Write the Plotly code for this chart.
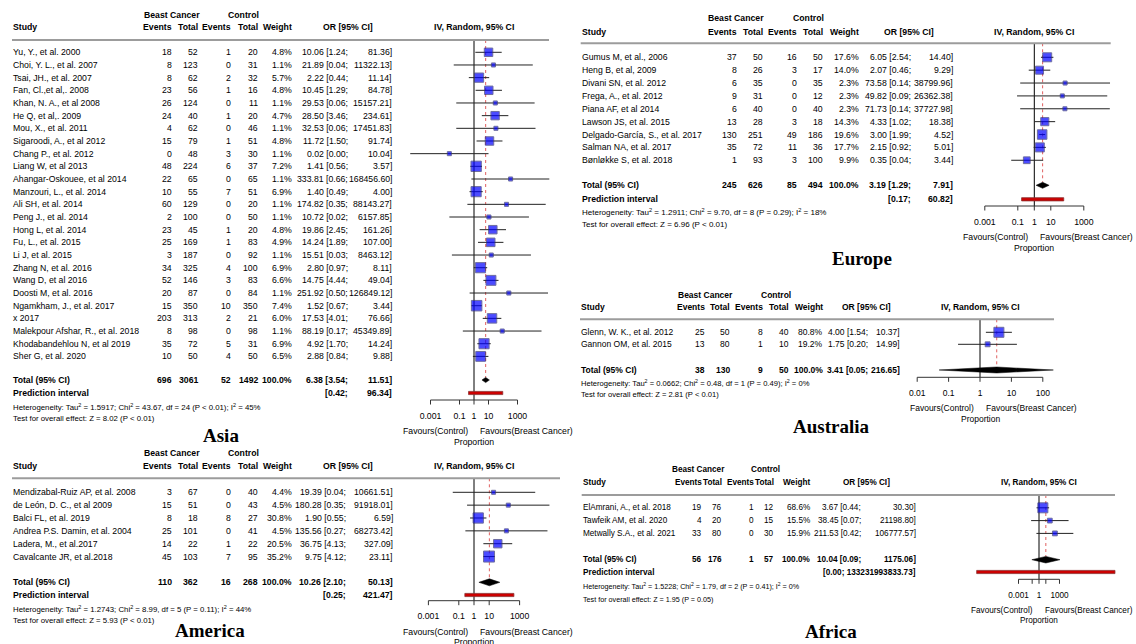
import math
import plotly.graph_objects as go

W, H = 1136, 644
FONT = "Liberation Sans, Arial, Helvetica, sans-serif"
SERIF = "Liberation Serif, Times New Roman, serif"

# ---------------- Asia ----------------
asia_study = ["Yu, Y., et al. 2000", "Choi, Y. L., et al. 2007", "Tsai, JH., et al. 2007",
              "Fan, Cl.,et al,. 2008", "Khan, N. A., et al 2008", "He Q, et al,. 2009",
              "Mou, X., et al. 2011", "Sigaroodi, A., et al 2012", "Chang P., et al. 2012",
              "Liang W, et al 2013", "Ahangar-Oskouee, et al 2014", "Manzouri, L., et al. 2014",
              "Ali SH, et al. 2014", "Peng J., et al. 2014", "Hong L, et al. 2014",
              "Fu, L., et al. 2015", "Li J, et al. 2015", "Zhang N, et al. 2016",
              "Wang D, et al 2016", "Doosti M, et al. 2016", "Ngamkham, J., et al. 2017",
              "x 2017", "Malekpour Afshar, R., et al. 2018", "Khodabandehlou N, et al 2019",
              "Sher G, et al. 2020"]
asia_bc_events = [18, 8, 8, 23, 26, 24, 4, 15, 0, 48, 22, 10, 60, 2, 23, 25, 3, 34, 52, 20, 15, 203, 8, 35, 10]
asia_bc_total = [52, 123, 62, 56, 124, 40, 62, 79, 48, 224, 65, 55, 129, 100, 45, 169, 187, 325, 146, 87, 350, 313, 98, 72, 50]
asia_ct_events = [1, 0, 2, 1, 0, 1, 0, 1, 3, 6, 0, 7, 0, 0, 1, 1, 0, 4, 3, 0, 10, 2, 0, 5, 4]
asia_ct_total = [20, 31, 32, 16, 11, 20, 46, 51, 30, 37, 65, 51, 20, 50, 20, 83, 92, 100, 83, 84, 350, 21, 98, 31, 50]
asia_weight = [4.8, 1.1, 5.7, 4.8, 1.1, 4.7, 1.1, 4.8, 1.1, 7.2, 1.1, 6.9, 1.1, 1.1, 4.8, 4.9, 1.1, 6.9, 6.6, 1.1, 7.4, 6.0, 1.1, 6.9, 6.5]
asia_or = [10.06, 21.89, 2.22, 10.45, 29.53, 28.50, 32.53, 11.72, 0.02, 1.41, 333.81, 1.40, 174.82, 10.72, 19.86,
           14.24, 15.51, 2.80, 14.75, 251.92, 1.52, 17.53, 88.19, 4.92, 2.88]
asia_lo = [1.24, 0.04, 0.44, 1.29, 0.06, 3.46, 0.06, 1.50, 0.00004, 0.56, 0.66, 0.49, 0.35, 0.02, 2.45,
           1.89, 0.03, 0.97, 4.44, 0.50, 0.67, 4.01, 0.17, 1.70, 0.84]
asia_hi = [81.36, 11322.13, 11.14, 84.78, 15157.21, 234.61, 17451.83, 91.74, 10.04, 3.57, 168456.60, 4.00,
           88143.27, 6157.85, 161.26, 107.00, 8463.12, 8.11, 49.04, 126849.12, 3.44, 76.66, 45349.89, 14.24, 9.88]
asia_total = [696, 3061, 52, 1492]
asia_pooled = [6.38, 3.54, 11.51]
asia_pred = [0.42, 96.34]
asia_het = "Heterogeneity: Tau<sup>2</sup> = 1.5917; Chi<sup>2</sup> = 43.67, df = 24 (P &lt; 0.01); I<sup>2</sup> = 45%"
asia_test = "Test for overall effect: Z = 8.02 (P &lt; 0.01)"

# ---------------- Europe ----------------
europe_study = ["Gumus M, et al., 2006", "Heng B, et al, 2009", "Divani SN, et al. 2012", "Frega, A., et al. 2012",
                "Piana AF, et al 2014", "Lawson JS, et al. 2015", "Delgado-García, S., et al. 2017",
                "Salman NA, et al. 2017", "Bønløkke S, et al. 2018"]
europe_bc_events = [37, 8, 6, 9, 6, 13, 130, 35, 1]
europe_bc_total = [50, 26, 35, 31, 40, 28, 251, 72, 93]
europe_ct_events = [16, 3, 0, 0, 0, 3, 49, 11, 3]
europe_ct_total = [50, 17, 35, 12, 40, 18, 186, 36, 100]
europe_weight = [17.6, 14.0, 2.3, 2.3, 2.3, 14.3, 19.6, 17.7, 9.9]
europe_or = [6.05, 2.07, 73.58, 49.82, 71.73, 4.33, 3.00, 2.15, 0.35]
europe_lo = [2.54, 0.46, 0.14, 0.09, 0.14, 1.02, 1.99, 0.92, 0.04]
europe_hi = [14.40, 9.29, 38799.96, 26362.38, 37727.98, 18.38, 4.52, 5.01, 3.44]
europe_total = [245, 626, 85, 494]
europe_pooled = [3.19, 1.29, 7.91]
europe_pred = [0.17, 60.82]
europe_het = "Heterogeneity: Tau<sup>2</sup> = 1.2911; Chi<sup>2</sup> = 9.70, df = 8 (P = 0.29); I<sup>2</sup> = 18%"
europe_test = "Test for overall effect: Z = 6.96 (P &lt; 0.01)"

# ---------------- Australia ----------------
australia_study = ["Glenn, W. K., et al. 2012", "Gannon OM, et al. 2015"]
australia_bc_events = [25, 13]
australia_bc_total = [50, 80]
australia_ct_events = [8, 1]
australia_ct_total = [40, 10]
australia_weight = [80.8, 19.2]
australia_or = [4.00, 1.75]
australia_lo = [1.54, 0.20]
australia_hi = [10.37, 14.99]
australia_total = [38, 130, 9, 50]
australia_pooled = [3.41, 0.05, 216.65]
australia_het = "Heterogeneity: Tau<sup>2</sup> = 0.0662; Chi<sup>2</sup> = 0.48, df = 1 (P = 0.49); I<sup>2</sup> = 0%"
australia_test = "Test for overall effect: Z = 2.81 (P &lt; 0.01)"

# ---------------- America ----------------
america_study = ["Mendizabal-Ruiz AP, et al. 2008", "de León, D. C., et al 2009", "Balci FL, et al. 2019",
                 "Andrea P.S. Damin, et al. 2004", "Ladera, M., et al.2017", "Cavalcante JR, et al.2018"]
america_bc_events = [3, 15, 8, 25, 14, 45]
america_bc_total = [67, 51, 18, 101, 22, 103]
america_ct_events = [0, 0, 8, 0, 1, 7]
america_ct_total = [40, 43, 27, 41, 22, 95]
america_weight = [4.4, 4.5, 30.8, 4.5, 20.5, 35.2]
america_or = [19.39, 180.28, 1.90, 135.56, 36.75, 9.75]
america_lo = [0.04, 0.35, 0.55, 0.27, 4.13, 4.12]
america_hi = [10661.51, 91918.01, 6.59, 68273.42, 327.09, 23.11]
america_total = [110, 362, 16, 268]
america_pooled = [10.26, 2.10, 50.13]
america_pred = [0.25, 421.47]
america_het = "Heterogeneity: Tau<sup>2</sup> = 1.2743; Chi<sup>2</sup> = 8.99, df = 5 (P = 0.11); I<sup>2</sup> = 44%"
america_test = "Test for overall effect: Z = 5.93 (P &lt; 0.01)"

# ---------------- Africa ----------------
africa_study = ["ElAmrani, A., et al. 2018", "Tawfeik AM, et al. 2020", "Metwally S.A., et al. 2021"]
africa_bc_events = [19, 4, 33]
africa_bc_total = [76, 20, 80]
africa_ct_events = [1, 0, 0]
africa_ct_total = [12, 15, 30]
africa_weight = [68.6, 15.5, 15.9]
africa_or = [3.67, 38.45, 211.53]
africa_lo = [0.44, 0.07, 0.42]
africa_hi = [30.30, 21198.80, 106777.57]
africa_total = [56, 176, 1, 57]
africa_pooled = [10.04, 0.09, 1175.06]
africa_pred = [7.5e-10, 133231993833.73]
africa_het = "Heterogeneity: Tau<sup>2</sup> = 1.5228; Chi<sup>2</sup> = 1.79, df = 2 (P = 0.41); I<sup>2</sup> = 0%"
africa_test = "Test for overall effect: Z = 1.95 (P = 0.05)"

# axis ticks
ticks_wide = [0.001, 0.1, 1, 10, 1000]
ticks_wide_text = ["0.001", "0.1", "1", "10", "1000"]
ticks_aus = [0.01, 0.1, 1, 10, 100]
ticks_aus_text = ["0.01", "0.1", "1", "10", "100"]
ticks_afr_text = ["0.001", " ", "1", " ", "1000"]

# ---------------- page layout of each panel (pixels) ----------------
asia_geo = dict(fs=8.7, fs_small=7.8, study_x=12, bce_x=172.5, bct_x=199, cte_x=232.3, ctt_x=258.7, wt_x=292.7,
                cia_x=349, cib_x=393, pi_single=False,
                bc_c=171.5, ct_c=243.3, or_c=348, head1_y=14.7, head2_y=27.3, hline_y=40, hline_x0=12, hline_x1=549,
                row0=52.3, step=12.67, total_y=380, pi_y=393, het_y=406.7, test_y=418.5,
                null_x=474, dec=14.5, dom_l=399, dom_r=549.4, axis_y=400, title_x=221, title_y=435,
                dia_h=2.6, smax=10.5)
america_geo = dict(fs=8.7, fs_small=7.8, study_x=12, bce_x=172.5, bct_x=199, cte_x=232.3, ctt_x=258.7, wt_x=292.7,
                   cia_x=347, cib_x=394, pi_single=False,
                   bc_c=171.5, ct_c=243.3, or_c=348, head1_y=453.5, head2_y=466, hline_y=478.3, hline_x0=12,
                   hline_x1=560, row0=492.3, step=12.85, total_y=582.3, pi_y=595, het_y=608.5, test_y=620.5,
                   null_x=474, dec=15.2, dom_l=396, dom_r=552, axis_y=600.7, title_x=210, title_y=630,
                   dia_h=3.5, smax=11)
europe_geo = dict(fs=8.7, fs_small=8, study_x=580.7, bce_x=737.7, bct_x=764, cte_x=798, ctt_x=824.3, wt_x=860,
                  cia_x=912, cib_x=954, pi_single=False,
                  bc_c=735.7, ct_c=808.5, or_c=908.8, head1_y=18.3, head2_y=31.7, hline_y=43.3, hline_x0=580.7,
                  hline_x1=1110.7, row0=57.3, step=12.87, total_y=185.3, pi_y=199.3, het_y=212.3, test_y=224,
                  null_x=1034.3, dec=16.5, dom_l=958, dom_r=1110.7, axis_y=206, title_x=862, title_y=258,
                  dia_h=3, smax=9.5)
australia_geo = dict(fs=8.5, fs_small=7.6, study_x=580, bce_x=705.7, bct_x=731, cte_x=764.3, ctt_x=790.3,
                     wt_x=823.7, cia_x=869, cib_x=901, pi_single=False,
                     bc_c=705, ct_c=775.7, or_c=866, head1_y=294.7, head2_y=306.7, hline_y=319.3,
                     hline_x0=580, hline_x1=1054, row0=332.3, step=12, total_y=370, pi_y=None, het_y=382.7,
                     test_y=394, null_x=980, dec=31.4, dom_l=906, dom_r=1054, axis_y=377.3, title_x=831.5,
                     title_y=426.7, dia_h=3, smax=10)
africa_geo = dict(fs=8.2, fs_small=7.2, study_x=581.7, bce_x=702.5, bct_x=723, cte_x=754.5, ctt_x=775,
                  wt_x=811, cia_x=861.7, cib_x=917.3, pi_single=True,
                  bc_c=698.8, ct_c=765, or_c=866.5, head1_y=469.3, head2_y=482.3, hline_y=495,
                  hline_x0=581.7, hline_x1=1115, row0=507.8, step=12.8, total_y=559.7, pi_y=572, het_y=586,
                  test_y=599, null_x=1039, dec=6.83, dom_l=974, dom_r=1117, axis_y=579.3, title_x=831,
                  title_y=631, dia_h=3.3, smax=10)

panels = [
    dict(title="Asia", study=asia_study, bce=asia_bc_events, bct=asia_bc_total, cte=asia_ct_events,
         ctt=asia_ct_total, wt=asia_weight, est=asia_or, lo=asia_lo, hi=asia_hi, total=asia_total,
         pooled=asia_pooled, pred=asia_pred, het=asia_het, test=asia_test,
         ticks=ticks_wide, ticktext=ticks_wide_text, geo=asia_geo),
    dict(title="Europe", study=europe_study, bce=europe_bc_events, bct=europe_bc_total, cte=europe_ct_events,
         ctt=europe_ct_total, wt=europe_weight, est=europe_or, lo=europe_lo, hi=europe_hi, total=europe_total,
         pooled=europe_pooled, pred=europe_pred, het=europe_het, test=europe_test,
         ticks=ticks_wide, ticktext=ticks_wide_text, geo=europe_geo),
    dict(title="Australia", study=australia_study, bce=australia_bc_events, bct=australia_bc_total,
         cte=australia_ct_events, ctt=australia_ct_total, wt=australia_weight, est=australia_or,
         lo=australia_lo, hi=australia_hi, total=australia_total, pooled=australia_pooled, pred=None,
         het=australia_het, test=australia_test, ticks=ticks_aus, ticktext=ticks_aus_text, geo=australia_geo),
    dict(title="America", study=america_study, bce=america_bc_events, bct=america_bc_total,
         cte=america_ct_events, ctt=america_ct_total, wt=america_weight, est=america_or, lo=america_lo,
         hi=america_hi, total=america_total, pooled=america_pooled, pred=america_pred, het=america_het,
         test=america_test, ticks=ticks_wide, ticktext=ticks_wide_text, geo=america_geo),
    dict(title="Africa", study=africa_study, bce=africa_bc_events, bct=africa_bc_total, cte=africa_ct_events,
         ctt=africa_ct_total, wt=africa_weight, est=africa_or, lo=africa_lo, hi=africa_hi, total=africa_total,
         pooled=africa_pooled, pred=africa_pred, het=africa_het, test=africa_test,
         ticks=ticks_wide, ticktext=ticks_afr_text, geo=africa_geo),
]


def px(x):
    return x / W


def py(y):
    return 1 - y / H


fig = go.Figure()
annotations = []
shapes = []
layout_axes = {}


def text(x, y, s, anchor="left", size=9, bold=False, color="black", family=FONT):
    if bold:
        s = "<b>" + s + "</b>"
    annotations.append(dict(x=px(x), y=py(y), xref="paper", yref="paper", text=s, showarrow=False,
                            xanchor=anchor, yanchor="middle", borderpad=0,
                            font=dict(family=family, size=size, color=color)))


def f2(v):
    return f"{v:.2f}"


for n, p in enumerate(panels, start=1):
    g = p["geo"]
    fs = g["fs"]
    xr = "x" if n == 1 else f"x{n}"
    yr = "y" if n == 1 else f"y{n}"
    xa = "xaxis" if n == 1 else f"xaxis{n}"
    ya = "yaxis" if n == 1 else f"yaxis{n}"

    def idx(ypix, g=g):
        return (ypix - g["row0"]) / g["step"]

    # ---- table headings ----
    text(g["bc_c"], g["head1_y"], "Beast Cancer", "center", fs, bold=True)
    text(g["ct_c"], g["head1_y"], "Control", "center", fs, bold=True)
    text(g["study_x"], g["head2_y"], "Study", "left", fs, bold=True)
    for key, lab in [("bce_x", "Events"), ("bct_x", "Total"), ("cte_x", "Events"), ("ctt_x", "Total"),
                     ("wt_x", "Weight")]:
        text(g[key], g["head2_y"], lab, "right", fs, bold=True)
    text(g["or_c"], g["head2_y"], "OR [95% CI]", "center", fs, bold=True)
    text(g["null_x"], g["head2_y"], "IV, Random, 95% CI", "center", fs, bold=True)
    shapes.append(dict(type="line", xref="paper", yref="paper", x0=px(g["hline_x0"]), x1=px(g["hline_x1"]),
                       y0=py(g["hline_y"]), y1=py(g["hline_y"]), line=dict(color="#9c9c9c", width=2)))

    # ---- study rows ----
    for i, name in enumerate(p["study"]):
        yy = g["row0"] + i * g["step"]
        text(g["study_x"], yy, name, "left", fs)
        text(g["bce_x"], yy, str(p["bce"][i]), "right", fs)
        text(g["bct_x"], yy, str(p["bct"][i]), "right", fs)
        text(g["cte_x"], yy, str(p["cte"][i]), "right", fs)
        text(g["ctt_x"], yy, str(p["ctt"][i]), "right", fs)
        text(g["wt_x"], yy, f"{p['wt'][i]:.1f}%", "right", fs)
        text(g["cia_x"], yy, f"{f2(p['est'][i])} [{f2(p['lo'][i])};", "right", fs)
        text(g["cib_x"], yy, f"{f2(p['hi'][i])}]", "right", fs)

    # ---- pooled rows ----
    ty = g["total_y"]
    text(g["study_x"], ty, "Total (95% CI)", "left", fs, bold=True)
    for key, v in zip(["bce_x", "bct_x", "cte_x", "ctt_x"], p["total"]):
        text(g[key], ty, str(v), "right", fs, bold=True)
    text(g["wt_x"], ty, "100.0%", "right", fs, bold=True)
    est, plo, phi = p["pooled"]
    text(g["cia_x"], ty, f"{f2(est)} [{f2(plo)};", "right", fs, bold=True)
    text(g["cib_x"], ty, f"{f2(phi)}]", "right", fs, bold=True)
    if p["pred"] is not None:
        text(g["study_x"], g["pi_y"], "Prediction interval", "left", fs, bold=True)
        if g["pi_single"]:
            text(g["cib_x"], g["pi_y"], f"[{f2(p['pred'][0])}; {f2(p['pred'][1])}]", "right", fs, bold=True)
        else:
            text(g["cia_x"], g["pi_y"], f"[{f2(p['pred'][0])};", "right", fs, bold=True)
            text(g["cib_x"], g["pi_y"], f"{f2(p['pred'][1])}]", "right", fs, bold=True)
    text(g["study_x"], g["het_y"], p["het"], "left", size=g["fs_small"])
    text(g["study_x"], g["test_y"], p["test"], "left", size=g["fs_small"])
    text(g["title_x"], g["title_y"], p["title"], "center", size=19, bold=True, family=SERIF)

    # ---- forest axes ----
    lo_r = -(g["null_x"] - g["dom_l"]) / g["dec"]
    hi_r = (g["dom_r"] - g["null_x"]) / g["dec"]
    bottom = g["axis_y"] + 6
    layout_axes[xa] = dict(type="log", range=[lo_r, hi_r], domain=[px(g["dom_l"]), px(g["dom_r"])], anchor=yr,
                           showgrid=False, zeroline=False, showline=False, ticks="",
                           tickmode="array", tickvals=p["ticks"], ticktext=p["ticktext"],
                           tickfont=dict(family=FONT, size=fs, color="black"), ticklabelstandoff=3)
    layout_axes[ya] = dict(domain=[py(bottom), py(g["hline_y"])], range=[idx(bottom), idx(g["hline_y"])],
                           visible=False, anchor=xr, fixedrange=True)

    common = dict(xaxis=xr, yaxis=yr, showlegend=False, hoverinfo="skip")
    rows = list(range(len(p["study"])))
    t_i = idx(ty)
    top_i = idx(g["hline_y"])
    ax_i = idx(g["axis_y"])

    # null effect line and pooled estimate line
    fig.add_trace(go.Scatter(x=[1, 1], y=[top_i, ax_i], mode="lines", line=dict(color="black", width=1), **common))
    fig.add_trace(go.Scatter(x=[est, est], y=[top_i, t_i - g["dia_h"] / g["step"]], mode="lines",
                             line=dict(color="#e06060", width=1, dash="dot"), **common))

    # confidence intervals
    cx, cy = [], []
    for i in rows:
        cx += [p["lo"][i], p["hi"][i], None]
        cy += [i, i, None]
    fig.add_trace(go.Scatter(x=cx, y=cy, mode="lines", line=dict(color="#222222", width=1), **common))

    # study squares, side proportional to sqrt(weight)
    wmax = max(p["wt"])
    sizes = [max(4, g["smax"] * math.sqrt(w / wmax)) for w in p["wt"]]
    fig.add_trace(go.Scatter(x=p["est"], y=rows, mode="markers",
                             marker=dict(symbol="square", size=sizes, color="#0000ff",
                                         line=dict(color="#30307a", width=1)), **common))

    # pooled diamond
    dh = g["dia_h"] / g["step"]
    fig.add_trace(go.Scatter(x=[plo, est, phi, est, plo], y=[t_i, t_i - dh, t_i, t_i + dh, t_i], mode="lines",
                             fill="toself", fillcolor="black", line=dict(color="black", width=0.5), **common))

    # prediction interval bar
    if p["pred"] is not None:
        p_i = idx(g["pi_y"])
        bh = 1.6 / g["step"]
        a, b = p["pred"]
        fig.add_trace(go.Scatter(x=[a, b, b, a, a], y=[p_i - bh, p_i - bh, p_i + bh, p_i + bh, p_i - bh],
                                 mode="lines", fill="toself", fillcolor="#cc0000",
                                 line=dict(color="#8a3030", width=0.8), **common))

    # x axis line with downward tick marks
    tick_len = 4.5 / g["step"]
    axx = [p["ticks"][0], p["ticks"][-1], None]
    axy = [ax_i, ax_i, None]
    for t in p["ticks"]:
        axx += [t, t, None]
        axy += [ax_i, ax_i + tick_len, None]
    fig.add_trace(go.Scatter(x=axx, y=axy, mode="lines", line=dict(color="#333333", width=1), **common))

    # axis captions tied to the null effect
    cap = dict(xref=xr, yref="paper", showarrow=False, yanchor="middle", borderpad=0,
               font=dict(family=FONT, size=fs, color="black"))
    annotations.append(dict(x=0, y=py(g["axis_y"] + 31), text="Favours(Control)", xanchor="right", xshift=-5, **cap))
    annotations.append(dict(x=0, y=py(g["axis_y"] + 31), text="Favours(Breast Cancer)", xanchor="left", xshift=5,
                            **cap))
    annotations.append(dict(x=0, y=py(g["axis_y"] + 41.5), text="Proportion", xanchor="center", **cap))

fig.update_layout(
    width=W, height=644, margin=dict(l=0, r=0, t=0, b=0),
    paper_bgcolor="white", plot_bgcolor="rgba(0,0,0,0)",
    annotations=annotations, shapes=shapes, showlegend=False,
    font=dict(family=FONT, size=9, color="black"),
    **layout_axes,
)

fig.write_html("out.html", config=dict(displayModeBar=False))
